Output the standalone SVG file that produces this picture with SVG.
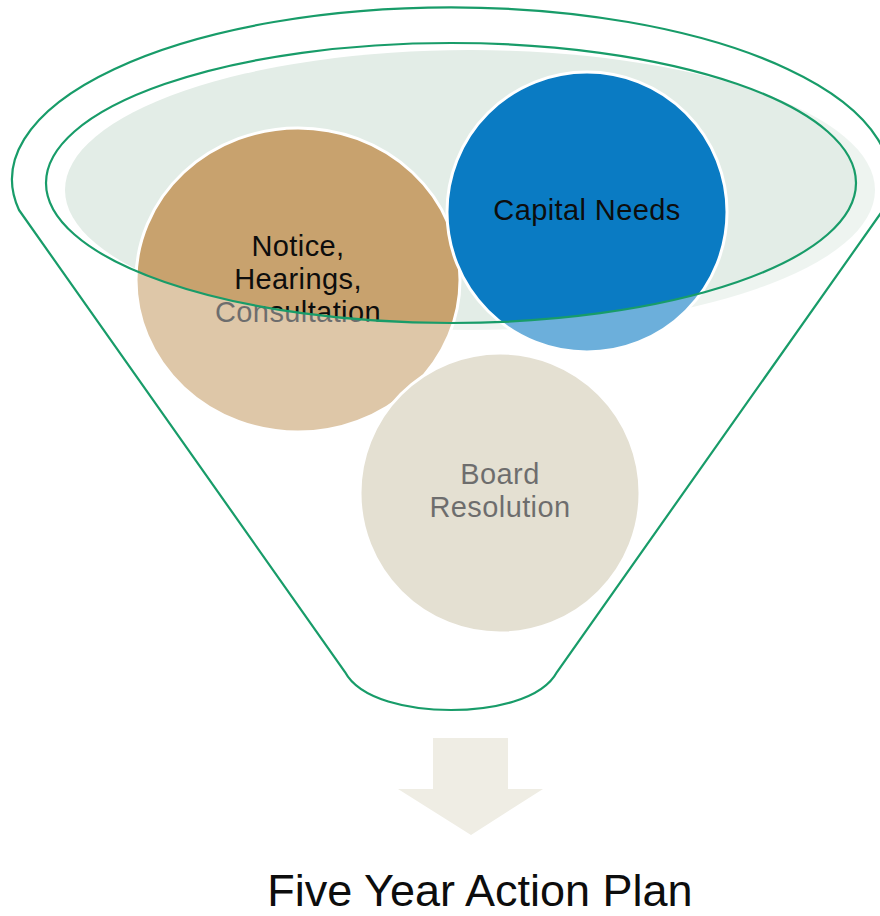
<svg xmlns="http://www.w3.org/2000/svg" width="880" height="916" viewBox="0 0 880 916">
  <style>
    .lbl { font-family: "Liberation Sans", Arial, sans-serif; font-size: 29px; fill: #0d0d0d; text-anchor: middle; letter-spacing: 0.4px; }
    .title { font-family: "Liberation Sans", Arial, sans-serif; font-size: 45px; fill: #0d0d0d; text-anchor: middle; }
    .ring { fill: none; stroke: #189c69; stroke-width: 2.2; }
    .bubble { stroke: #ffffff; stroke-width: 3; }
  </style>
  <defs>
    <!-- funnel body: outer rim arc + straight sides + rounded spout -->
    <path id="funnelBody" d="M19,210 L345,672 C360,700 410,710 451,710 C492,710 542,700 557,672 L883,210 A439 172 0 1 0 19,210 Z"/>
  </defs>

  <rect width="880" height="916" fill="#ffffff"/>

  <!-- soft tint inside the funnel mouth -->
  <g id="mouth">
    <ellipse cx="470" cy="190" rx="405" ry="140" fill="#e3ede7"/>
  </g>

  <g id="node-notice">
    <ellipse class="bubble" cx="298" cy="280" rx="162" ry="152" fill="#c8a26e"/>
    <text class="lbl" x="298" y="256">Notice,</text>
    <text class="lbl" x="298" y="289">Hearings,</text>
    <text class="lbl" x="298" y="322">Consultation</text>
  </g>

  <g id="node-capital">
    <circle class="bubble" cx="587" cy="212" r="140" fill="#0a7bc3"/>
    <text class="lbl" x="587" y="220">Capital Needs</text>
  </g>

  <g id="node-board">
    <circle class="bubble" cx="500" cy="493" r="140" fill="#d2cbb4"/>
    <text class="lbl" x="500" y="484">Board</text>
    <text class="lbl" x="500" y="517">Resolution</text>
  </g>

  <!-- translucent funnel wall washes out everything below the opening -->
  <g id="funnel">
    <path fill="#ffffff" fill-opacity="0.4" fill-rule="evenodd"
          d="M19,210 L345,672 C360,700 410,710 451,710 C492,710 542,700 557,672 L883,210 A439 172 0 1 0 19,210 Z
             M46,183 A405 140 0 1 0 856,183 A405 140 0 1 0 46,183 Z"/>
    <use href="#funnelBody" class="ring"/>
    <ellipse class="ring" cx="451" cy="183" rx="405" ry="140"/>
  </g>

  <g id="connectors">
    <path d="M433,738 L508,738 L508,789 L543,789 L471,835 L398,789 L433,789 Z" fill="#efede4"/>
  </g>

  <g id="node-result">
    <text class="title" x="480" y="906">Five Year Action Plan</text>
  </g>
</svg>
